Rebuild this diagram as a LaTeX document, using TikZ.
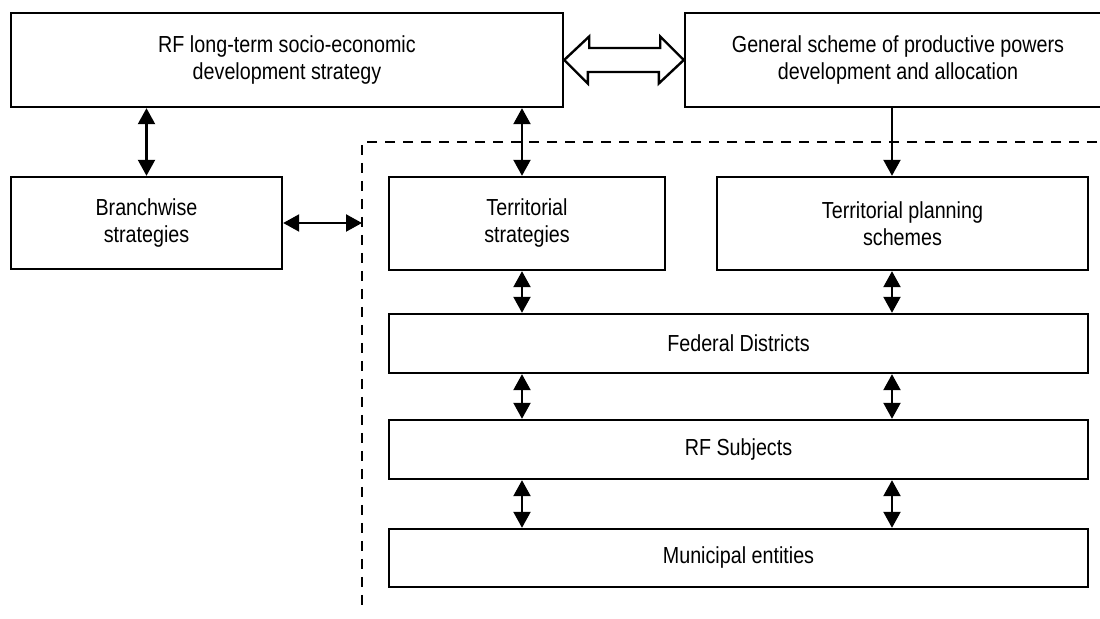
\documentclass[tikz,border=0pt]{standalone}
\usepackage{fontspec}
\setmainfont{Liberation Sans}[FakeStretch=0.85]
\usetikzlibrary{arrows.meta}
\begin{document}
\begin{tikzpicture}[x=0.5pt, y=-0.5pt, >={Triangle[width=8.5pt,length=8pt]},
  box/.style={draw, line width=1.2pt, align=center, inner sep=0pt,
    font=\fontsize{11.6}{13.5}\selectfont},
  dbl/.style={<->, line width=1.1pt},
  sgl/.style={->, line width=1.1pt},
  dashline/.style={line width=1.1pt, dash pattern=on 5pt off 4pt}]
\useasboundingbox[fill=white] (0,0) rectangle (1100,619);

\node[box, minimum width=276pt, minimum height=47pt] (strat) at (287,60)
  {RF long-term socio-economic\\development strategy};
\node[box, minimum width=213pt, minimum height=47pt] (scheme) at (898,60)
  {General scheme of productive powers\\development and allocation};
\node[box, minimum width=135.5pt, minimum height=46pt] (branch) at (146.5,223)
  {Branchwise\\strategies};
\node[box, minimum width=138pt, minimum height=46.5pt] (terr) at (527,223.5)
  {Territorial\\strategies};
\node[box, minimum width=185.5pt, minimum height=46.5pt] (plan) at (902.5,223.5)
  {Territorial planning\\schemes};
\node[box, minimum width=349.5pt, minimum height=29.5pt] (fed) at (738.5,343.5)
  {Federal Districts};
\node[box, minimum width=349.5pt, minimum height=29.5pt] (subj) at (738.5,449.5)
  {RF Subjects};
\node[box, minimum width=349.5pt, minimum height=29pt] (muni) at (738.5,558)
  {Municipal entities};

% dashed border
\coordinate (dc) at (362,142);
\coordinate (de) at (1097,142);
\coordinate (db) at (362,609);
\draw[dashline] (de) -- (dc) -- (db);

% hollow arrow
\draw[line width=1.2pt, fill=white] (strat.east) -- ++(25,-23.5) -- ++(0,11.5) -- ++(71,0)
  -- ++(0,-11.5) -- (scheme.west) -- ++(-25,23.5) -- ++(0,-11.5) -- ++(-71,0)
  -- ++(0,11.5) -- cycle;

\coordinate (lx) at (522,0);
\coordinate (rx) at (892,0);
\draw[dbl] (strat.south -| branch.north) -- (branch.north);
\draw[dbl] (strat.south -| lx) -- (terr.north -| lx);
\draw[sgl] (scheme.south -| rx) -- (plan.north -| rx);
\draw[dbl] (branch.east) -- (branch.east -| dc);
\draw[dbl] (terr.south -| lx) -- (fed.north -| lx);
\draw[dbl] (plan.south -| rx) -- (fed.north -| rx);
\foreach \a/\b in {fed/subj, subj/muni} {
  \draw[dbl] (\a.south -| lx) -- (\b.north -| lx);
  \draw[dbl] (\a.south -| rx) -- (\b.north -| rx);
}
\end{tikzpicture}
\end{document}
